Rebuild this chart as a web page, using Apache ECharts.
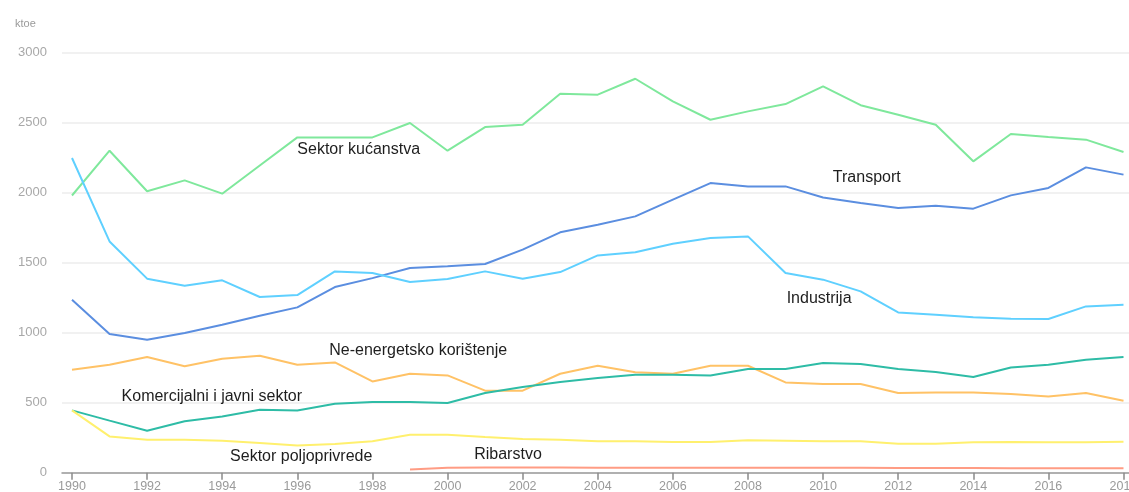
<!DOCTYPE html>
<html>
<head>
<meta charset="utf-8">
<script src="https://cdn.jsdelivr.net/npm/echarts@6/dist/echarts.min.js"></script>
<style>
html,body{margin:0;padding:0;background:#fff;}
#chart{width:1129px;height:492px;}
</style>
</head>
<body>
<div id="chart"></div>
<script>
var years = [1990,1991,1992,1993,1994,1995,1996,1997,1998,1999,2000,2001,2002,2003,2004,2005,2006,2007,2008,2009,2010,2011,2012,2013,2014,2015,2016,2017,2018];
var xTickLabels = [1990,1992,1994,1996,1998,2000,2002,2004,2006,2008,2010,2012,2014,2016,2018];
var yTicks = [0,500,1000,1500,2000,2500,3000];

var kucanstva = [1980,2300,2010,2088,1993,2194,2395,2395,2395,2498,2300,2469,2486,2707,2700,2814,2652,2521,2581,2633,2759,2625,2557,2486,2224,2419,2398,2379,2291];
var transport = [1236,991,950,998,1057,1121,1181,1326,1390,1462,1475,1491,1593,1717,1771,1831,1950,2069,2045,2045,1966,1926,1890,1907,1886,1981,2034,2181,2129];
var industrija = [2248,1652,1386,1336,1374,1255,1269,1438,1426,1362,1383,1438,1386,1433,1552,1574,1636,1676,1688,1426,1379,1295,1145,1129,1110,1100,1098,1188,1200];
var neEnergetsko = [736,771,826,760,814,836,771,788,652,707,695,586,586,707,764,717,707,764,764,645,633,633,569,572,572,562,545,569,514];
var komercijalni = [445,372,300,367,402,450,445,493,505,505,498,569,612,648,676,700,700,695,740,740,783,776,740,719,683,752,771,807,826];
var poljoprivreda = [445,259,236,236,229,212,195,205,224,271,271,255,241,236,224,224,219,219,231,229,224,224,207,207,217,219,217,217,221];
var ribarstvo = [null,null,null,null,null,null,null,null,null,22,35,38,38,37,36,36,36,36,36,35,35,35,34,33,33,32,32,31,31];

var seriesNames = ['Sektor kućanstva','Transport','Industrija','Ne-energetsko korištenje','Komercijalni i javni sektor','Sektor poljoprivrede','Ribarstvo'];
var seriesData = [kucanstva, transport, industrija, neEnergetsko, komercijalni, poljoprivreda, ribarstvo];
var seriesColors = ['#7fe89c','#5b8ee0','#5fd0ff','#ffc266','#2ebca6','#fff06e','#ff9c84'];

// annotation anchor: [text, year, value]
var annotations = [
  ['Sektor kućanstva', 1996.0, 2305],
  ['Transport', 2010.26, 2107],
  ['Industrija', 2009.03, 1241],
  ['Ne-energetsko korištenje', 1996.85, 871],
  ['Komercijalni i javni sektor', 1991.32, 543],
  ['Sektor poljoprivrede', 1994.21, 112],
  ['Ribarstvo', 2000.71, 126]
];

function pairs(arr){
  return years.map(function(y,i){ return [y, arr[i]]; });
}

var chart = echarts.init(document.getElementById('chart'), null, {renderer:'canvas'});
var series = seriesData.map(function(d,i){
  return {
    name: seriesNames[i],
    type: 'line',
    data: pairs(d),
    showSymbol: false,
    symbol: 'none',
    connectNulls: false,
    lineStyle: {color: seriesColors[i], width: 2},
    itemStyle: {color: seriesColors[i]},
    z: 2 + i,
    animation: false
  };
});

var option = {
  animation: false,
  title: {
    text: 'ktoe', left: 10, top: 13,
    textStyle: {fontSize: 11, fontWeight: 'normal', color: '#9a9a9a', fontFamily: 'Liberation Sans, Arial, sans-serif'}
  },
  grid: {left: 62, right: 0, top: 52.7, bottom: 19.3, containLabel: false, outerBoundsMode: 'none'},
  xAxis: {
    type: 'value',
    min: 1990 - 10/37.55,
    max: 2018 + 5.5/37.55,
    splitLine: {show: false},
    axisLine: {show: true, lineStyle: {color: '#9a9a9a', width: 1.5}},
    axisTick: {show: true, customValues: xTickLabels, length: 7, lineStyle: {color: '#8a8a8a', width: 1.5}},
    axisLabel: {
      customValues: xTickLabels,
      color: '#9a9a9a', fontSize: 12.5, margin: 7,
      fontFamily: 'Liberation Sans, Arial, sans-serif',
      hideOverlap: false,
      formatter: function(v){ return String(v); }
    }
  },
  yAxis: {
    type: 'value',
    min: 0, max: 3000, interval: 500,
    axisLine: {show: false},
    axisTick: {show: false},
    splitLine: {show: true, lineStyle: {color: '#ececec', width: 1.5}},
    axisLabel: {
      color: '#a8a8a8', fontSize: 13, margin: 15,
      fontFamily: 'Liberation Sans, Arial, sans-serif',
      formatter: function(v){ return String(v); }
    }
  },
  series: series
};
chart.setOption(option);

var graphics = annotations.map(function(a){
  var p = chart.convertToPixel({gridIndex: 0}, [a[1], a[2]]);
  return {
    type: 'text',
    x: p[0], y: p[1],
    z: 100,
    style: {
      text: a[0],
      fill: '#1e1e1e',
      font: '16px "Liberation Sans", Arial, sans-serif',
      verticalAlign: 'middle',
      align: 'left'
    }
  };
});
chart.setOption({graphic: graphics});
</script>
</body>
</html>
